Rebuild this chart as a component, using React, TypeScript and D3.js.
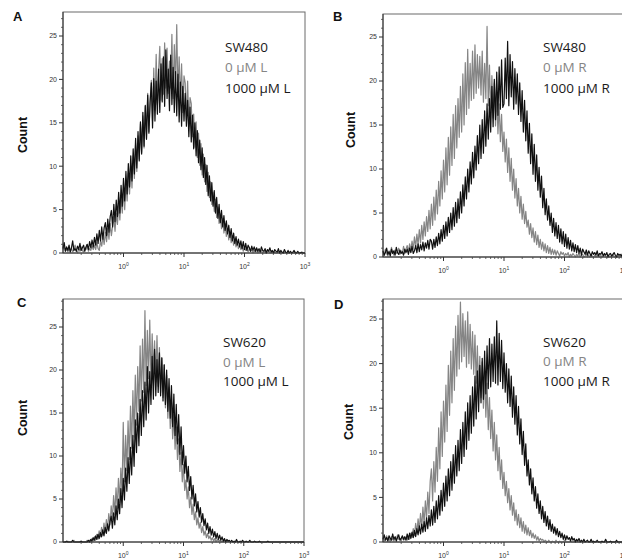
import React from 'react';
import * as d3 from 'd3';

// Histogram channels: log10 of fluorescence, from 10^-1 to 10^3 in steps of 0.02 decade
const LOG_START = -1;
const LOG_STEP = 0.02;

// Panel A — SW480, L
const A_0uM = [
 0.3,0.7,0.2,0.5,0.1,0.6,
 0.2,0.6,0.1,0.4,0.9,0.3,0.0,0.5,0.2,0.7,0.3,0.1,0.6,0.4,1.0,0.2,0.5,0.3,0.8,0.4,
 0.9,0.4,1.2,0.5,0.3,1.4,0.8,1.9,1.0,2.4,1.3,2.8,1.6,3.4,2.0,3.1,4.2,2.5,4.6,3.3,
 5.6,3.8,6.4,4.6,7.3,5.0,8.1,6.0,9.2,6.8,10.3,7.5,11.2,8.6,12.6,9.4,13.5,10.8,14.9,11.6,
 15.8,12.1,16.9,13.2,18.4,14.0,17.6,19.9,15.2,21.3,16.4,22.9,17.1,21.0,23.8,17.6,22.4,18.3,24.2,19.0,
 23.6,18.4,22.1,19.0,25.2,17.8,24.0,19.3,26.3,18.1,22.6,17.4,21.8,16.2,20.4,19.6,15.3,19.8,14.6,17.9,
 17.2,13.4,16.0,12.2,15.1,11.0,13.8,10.1,12.6,9.0,11.4,8.2,10.2,7.1,9.3,6.4,8.2,5.6,7.0,4.8,
 6.2,4.1,5.3,3.4,4.5,2.8,4.0,2.3,3.4,1.9,2.8,1.5,2.4,1.2,2.0,0.9,1.6,0.7,1.3,0.5,
 1.0,0.4,0.8,0.2,0.7,0.3,0.5,0.1,0.6,0.2,0.4,0.0,0.3,0.1,0.4,0.0,0.2,0.1,0.3,0.0,
 0.1,0.2,0.0,0.1,0.3,0.0,0.0,0.2,0.0,0.1,0.0,0.0,0.2,0.0,0.0,0.1,0.0,0.0,0.1,0.0,
 0.0,0.0,0.1,0.0,0.0,0.0,0.1,0.0,0.0,0.0,0.0,0.0,0.1,0.0,0.0];
const A_1000uM = [
 0.5,1.2,0.2,0.7,0.3,0.9,0.1,0.6,1.4,0.3,0.5,0.2,0.8,0.4,1.1,0.3,0.6,0.9,0.2,0.7,
 1.0,0.4,1.3,0.6,1.5,0.7,1.8,0.9,2.2,1.1,2.6,1.4,3.0,1.6,2.9,3.5,2.0,3.9,2.4,4.2,
 4.9,3.0,5.6,3.6,6.1,4.2,7.0,4.6,7.8,5.4,8.6,6.0,9.4,6.8,10.3,7.6,11.2,8.3,12.0,9.1,
 13.2,9.8,14.0,10.6,15.1,11.4,16.2,12.3,17.0,13.1,18.2,13.8,17.4,19.6,14.4,20.1,15.2,19.8,16.0,21.2,
 16.2,21.8,17.4,22.6,16.9,23.4,17.8,21.2,16.4,22.8,17.1,21.4,16.2,20.9,15.8,20.6,15.1,19.7,14.6,19.2,
 15.2,18.4,14.6,17.6,13.4,16.8,12.8,15.9,12.0,15.0,11.2,14.1,10.4,13.0,9.6,12.1,8.7,11.0,7.9,10.1,
 6.6,8.9,6.0,8.1,5.4,7.2,4.6,6.4,4.0,5.6,3.5,4.9,3.0,4.3,2.6,3.7,2.2,3.2,1.8,2.8,
 1.4,2.3,1.1,1.9,0.9,1.6,0.7,1.4,0.5,1.3,0.4,1.1,0.3,0.9,0.6,0.2,0.8,0.3,0.7,0.2,
 0.6,0.2,0.5,0.1,0.7,0.3,0.2,0.5,0.0,0.4,0.2,0.6,0.1,0.3,0.0,0.4,0.2,0.1,0.5,0.0,
 0.3,0.1,0.0,0.4,0.1,0.0,0.3,0.0,0.2,0.0,0.1,0.3,0.0,0.0,0.2,0.0,0.0,0.1,0.0,0.0,
 0.0];

// Panel B — SW480, R
const B_0uM = [
 0.6,0.2,0.9,0.4,0.1,0.7,0.3,1.1,0.5,0.2,0.8,0.4,0.6,1.0,0.3,0.7,0.5,1.2,0.4,0.9,
 1.3,0.6,1.5,0.7,1.8,0.9,2.3,1.1,2.6,1.4,3.1,1.6,3.6,2.0,4.0,2.4,4.6,2.9,5.3,3.2,
 6.0,3.6,6.8,4.2,7.6,4.9,8.6,5.8,9.8,6.6,11.0,7.4,12.4,8.2,13.6,9.3,14.8,10.4,16.2,11.2,
 17.2,12.4,18.0,13.6,19.4,14.2,20.8,15.0,22.1,16.2,23.6,16.9,22.0,17.8,23.4,18.0,24.1,18.6,23.0,19.2,
 22.8,18.4,23.4,17.6,22.0,18.0,26.2,17.2,21.8,16.4,20.6,15.8,19.8,14.9,18.6,14.0,17.4,13.1,16.2,12.0,
 14.2,10.8,13.4,9.6,12.4,8.6,11.2,7.6,10.0,6.7,8.9,5.8,7.8,5.0,6.9,4.3,6.0,3.8,5.2,3.4,
 4.2,2.6,3.8,2.2,3.3,1.7,2.9,1.4,2.5,1.1,2.0,0.9,1.7,0.7,1.5,0.5,1.3,0.4,1.1,0.3,
 0.9,0.3,0.8,0.2,0.7,0.4,0.1,0.6,0.3,0.5,0.1,0.4,0.2,0.5,0.0,0.3,0.1,0.4,0.2,0.0,
 0.3,0.1,0.4,0.0,0.2,0.3,0.0,0.1,0.4,0.0,0.2,0.0,0.3,0.1,0.0,0.2,0.0,0.1,0.3,0.0,
 0.2,0.0,0.1,0.3,0.0,0.0,0.2,0.0,0.1,0.0,0.3,0.0,0.0,0.1,0.0,0.2,0.0,0.0,0.1,0.0,
 0.0];
const B_1000uM = [
 0.7,0.2,0.5,1.0,0.3,0.6,0.1,0.9,0.4,0.7,0.2,1.1,0.5,0.3,0.8,0.4,0.6,0.2,0.9,0.5,
 0.9,0.3,1.0,0.5,1.2,0.4,0.7,1.3,0.5,1.5,0.6,1.4,0.8,1.7,0.7,1.6,1.0,1.9,0.9,2.0,
 1.8,0.9,2.0,1.1,2.3,1.3,2.7,1.5,3.1,1.8,3.6,2.1,4.0,2.4,4.5,2.8,5.0,3.1,5.6,3.5,
 6.2,3.9,6.6,4.4,7.4,5.0,8.2,5.8,9.1,6.6,10.0,7.4,10.8,8.3,11.9,9.0,12.6,9.9,13.8,10.6,
 15.0,11.2,15.6,11.8,16.6,12.6,17.4,13.4,18.0,14.2,19.4,14.8,20.2,15.6,21.0,16.1,21.6,16.8,22.4,17.0,
 17.4,22.6,18.0,24.5,17.2,23.0,18.2,22.2,16.8,21.4,17.4,20.8,16.2,19.8,15.4,18.9,14.2,17.8,13.2,16.6,
 11.8,15.2,10.6,14.0,9.4,12.8,8.6,11.6,7.6,10.2,6.8,9.2,5.6,7.8,4.8,6.6,4.2,5.8,3.6,5.0,
 2.8,4.4,2.4,3.9,2.1,3.6,1.7,3.2,1.5,2.9,1.2,2.6,1.0,2.2,0.9,1.9,0.7,1.6,0.6,1.4,
 0.5,1.3,0.4,1.0,0.2,0.9,0.6,0.3,0.8,0.2,0.7,0.4,0.1,0.6,0.3,0.5,0.2,0.7,0.1,0.4,
 0.3,0.6,0.1,0.4,0.2,0.5,0.0,0.3,0.4,0.1,0.3,0.5,0.2,0.0,0.4,0.2,0.3,0.1,0.4,0.2,
 0.3];

// Panel C — SW620, L
const C_0uM = [
 0,0,
 0,0,0.1,0,0,0,0,0.2,0,0,0,0,0,0.1,0,0,0,0,0.2,0,
 0.2,0,0.4,0.1,0.6,0.2,0.9,0.3,1.3,0.6,1.7,0.8,2.2,1.1,2.6,1.5,3.3,2.0,4.2,2.6,
 5.4,3.2,6.3,3.9,7.4,4.6,8.6,5.6,13.9,7.0,12.4,8.3,14.1,9.6,15.8,10.9,17.6,12.2,19.4,13.6,
 20.4,15.2,22.8,16.4,23.6,17.4,26.9,18.2,24.6,19.0,25.8,18.6,24.2,19.4,23.4,18.6,24.0,18.1,22.6,17.4,
 21.4,16.8,20.6,15.6,19.4,14.4,18.0,13.2,16.4,12.0,14.8,10.8,13.4,9.6,12.0,8.2,10.4,7.0,9.0,6.0,
 7.2,5.0,6.4,4.0,5.2,3.2,4.4,2.6,3.5,2.0,2.8,1.6,2.3,1.1,1.8,0.8,1.3,0.5,1.0,0.4,
 0.7,0.2,0.5,0.1,0.4,0,0.3,0.1,0.2,0,0.1,0,0.2,0,0,0.1,0,0,0,0,
 0,0,0.1,0,0,0,0,0,0.1,0,0,0,0,0,0,0,0,0,0,0,
 0,0,0,0,0,0,0,0,0,0,0,0,0,0,0,0,0,0,0,0,
 0,0,0,0,0,0,0,0,0,0,0,0,0,0,0,0,0,0,0];
const C_1000uM = [
 0,0,0,0.1,0,0,0,0,0.2,0,0,0,0,0,0,0.1,0,0,0,0,
 0,0.2,0,0.3,0.1,0.5,0.2,0.7,0.3,0.9,0.4,1.1,0.6,1.4,0.7,1.7,1.0,2.1,1.3,2.4,
 3.0,1.6,3.4,2.0,4.2,2.6,5.0,3.3,6.2,4.0,7.4,4.9,8.6,5.9,9.8,6.8,11.0,7.8,12.4,8.8,
 14.2,10.4,15.0,11.2,16.6,12.4,17.6,13.4,18.6,14.2,20.4,15.0,19.8,16.0,21.6,16.6,22.4,17.0,21.2,17.4,
 22.0,17.0,21.4,16.4,20.6,16.0,20.0,15.2,19.0,14.4,18.2,13.4,17.2,12.4,16.0,11.4,14.8,10.2,13.4,9.0,
 11.2,8.0,10.0,7.0,8.8,6.0,7.6,5.0,6.6,4.2,5.6,3.5,4.7,2.9,4.0,2.3,3.3,1.9,2.7,1.4,
 2.2,1.0,1.8,0.8,1.5,0.6,1.2,0.4,1.0,0.3,0.8,0.2,0.6,0.1,0.4,0,0.3,0.1,0.2,0,
 0.2,0,0.1,0,0.3,0,0,0.1,0,0.2,0,0,0.1,0,0,0.2,0,0,0,0.1,
 0,0,0,0.1,0,0,0,0,0,0,0.1,0,0,0,0,0,0,0,0,0,
 0,0,0,0,0,0,0,0,0,0,0,0,0,0,0,0,0,0,0,0,
 0];

// Panel D — SW620, R
const D_0uM = [
 0.5,0.1,0.3,0.7,0.2,0.4,0.0,0.6,0.3,0.1,0.5,0.2,0.8,0.3,0.4,0.1,0.6,0.2,0.3,0.5,
 0.2,0.7,0.3,1.0,0.5,1.5,0.7,2.1,1.0,2.6,1.3,3.2,1.6,3.9,2.0,4.6,2.6,5.6,3.2,6.8,
 8.2,4.6,9.0,5.6,10.6,6.8,12.8,8.2,14.6,9.6,15.8,11.2,17.6,12.4,19.8,14.2,21.4,15.6,22.8,17.0,
 24.2,18.6,25.4,19.4,26.9,20.2,25.6,20.8,24.8,19.6,25.8,20.0,24.4,19.4,23.6,18.8,23.2,17.8,22.0,17.0,
 20.8,16.2,20.2,15.0,19.0,14.0,17.8,12.6,16.2,11.6,14.8,10.2,13.4,9.2,12.0,8.0,10.6,7.0,9.2,6.0,
 7.8,5.2,6.8,4.4,6.0,3.6,5.2,3.0,4.4,2.4,3.6,1.9,3.1,1.6,2.7,1.2,2.3,1.0,1.9,0.8,
 1.6,0.7,1.3,0.5,1.0,0.4,0.8,0.2,0.6,0.1,0.4,0.2,0.3,0,0.2,0.1,0,0.2,0,0,
 0.1,0,0,0.2,0,0,0.1,0,0,0,0.2,0,0,0,0,0.1,0,0,0,0,
 0,0,0,0,0.1,0,0,0,0,0,0,0,0,0,0,0,0.1,0,0,0,
 0,0,0,0,0,0,0,0,0,0,0,0,0,0,0,0,0,0,0,0,
 0];
const D_1000uM = [
 0.3,0.8,0.2,0.5,0.1,0.7,0.4,0.2,0.9,0.3,0.6,0.1,0.5,0.8,0.2,0.4,0.7,0.3,0.6,0.2,
 0.9,0.3,1.0,0.4,1.1,0.5,1.3,0.6,1.5,0.8,1.8,0.9,2.0,1.1,2.3,1.2,2.7,1.5,3.0,1.8,
 3.6,1.9,4.0,2.2,4.6,2.6,5.2,3.0,5.8,3.5,6.6,4.0,7.4,4.6,8.2,5.2,9.0,5.8,9.8,6.6,
 10.8,7.4,11.4,8.0,12.6,8.8,13.4,9.6,14.6,10.4,15.6,11.4,16.4,12.2,17.4,13.0,18.6,13.8,19.2,14.6,
 19.8,15.6,20.6,16.0,21.4,16.6,22.0,17.2,22.8,17.4,22.2,18.0,23.0,17.8,24.8,17.6,23.4,18.0,22.6,17.2,
 21.2,16.8,20.0,15.6,19.4,15.2,18.6,14.0,17.4,13.2,16.4,12.0,15.2,11.0,13.8,9.8,12.4,8.6,11.0,7.4,
 9.2,6.4,8.2,5.4,7.2,4.6,6.2,3.8,5.4,3.2,4.6,2.6,4.0,2.2,3.4,1.8,2.9,1.4,2.5,1.2,
 2.0,1.0,1.7,0.8,1.5,0.6,1.2,0.5,1.0,0.3,0.8,0.2,0.7,0.3,0.5,0.1,0.6,0.2,0.4,0.0,
 0.3,0.1,0.4,0,0.2,0,0.3,0,0.1,0.2,0,0,0.3,0,0.1,0,0,0.2,0,0,
 0,0.1,0,0,0.3,0,0,0,0.1,0,0,0,0,0.2,0,0,0,0,0,0,
 0];

const Y_TICKS = [0, 5, 10, 15, 20, 25];
const X_DECADES = [1, 10, 100, 1000];
const X_TICK_EXP = ['0', '1', '2', '3'];
const PANEL_LETTERS = ['A', 'B', 'C', 'D'];
const CELL_LINES = ['SW480', 'SW480', 'SW620', 'SW620'];
const DRUGS = ['L', 'R', 'L', 'R'];
const SERIES_0 = [A_0uM, B_0uM, C_0uM, D_0uM];
const SERIES_1000 = [A_1000uM, B_1000uM, C_1000uM, D_1000uM];

const LAYOUT = [
  { lx: 13, ly: 21, x0: 63, x1: 305, yTop: 12, y0: 253, y25: 36, cx: 27, cy: 135, legX: 225, legY: [52, 72, 93] },
  { lx: 333, ly: 21, x0: 383, x1: 625, yTop: 14, y0: 257, y25: 37, cx: 355, cy: 130, legX: 543, legY: [52, 72, 93] },
  { lx: 17, ly: 307, x0: 63, x1: 304, yTop: 299, y0: 542, y25: 327, cx: 27, cy: 418, legX: 223, legY: [347, 367, 386] },
  { lx: 334, ly: 309, x0: 383, x1: 625, yTop: 299, y0: 542, y25: 319, cx: 353, cy: 422, legX: 543, legY: [347, 366, 386] },
];

const GRAY = '#858585';
const BLACK = '#101010';
const SANS = "'Liberation Sans', Arial, sans-serif";
const LEG_FONT = "'Open Sans', 'Liberation Sans', sans-serif";

function Panel({ idx }: { idx: number }) {
  const p = LAYOUT[idx];
  const x = d3.scaleLog().domain([0.1, 1000]).range([p.x0, p.x1]);
  const y = d3.scaleLinear().domain([0, 25]).range([p.y0, p.y25]);
  const line = d3
    .line<number>()
    .x((_, i) => x(Math.pow(10, LOG_START + i * LOG_STEP)))
    .y((v) => y(v));
  const yMax = y.invert(p.yTop);
  const minorY = d3.range(0, Math.floor(yMax) + 1).filter((v) => v % 5 !== 0);
  const minorX: number[] = [];
  [0.1, 1, 10, 100].forEach((dec) => {
    for (let k = 2; k <= 9; k++) minorX.push(dec * k);
  });

  return (
    <g>
      <rect x={p.x0} y={p.yTop} width={p.x1 - p.x0} height={p.y0 - p.yTop} fill="none" stroke="#6a6a6a" strokeWidth={1} />
      <path d={line(SERIES_0[idx]) || ''} fill="none" stroke={GRAY} strokeWidth={1.2} strokeLinejoin="round" />
      <path d={line(SERIES_1000[idx]) || ''} fill="none" stroke={BLACK} strokeWidth={1.2} strokeLinejoin="round" />
      <line x1={p.x0} x2={p.x0} y1={p.yTop} y2={p.y0} stroke="#333" strokeWidth={1} />
      <line x1={p.x0} x2={p.x1} y1={p.y0} y2={p.y0} stroke="#333" strokeWidth={1} />
      {Y_TICKS.map((t) => (
        <g key={'y' + t}>
          <line x1={p.x0 - 4} x2={p.x0} y1={y(t)} y2={y(t)} stroke="#333" strokeWidth={1} />
          <text x={p.x0 - 6} y={y(t)} dy="0.35em" textAnchor="end" fontFamily={SANS} fontSize={7} fill="#333">
            {t}
          </text>
        </g>
      ))}
      {minorY.map((t) => (
        <line key={'ym' + t} x1={p.x0 - 2} x2={p.x0} y1={y(t)} y2={y(t)} stroke="#444" strokeWidth={0.8} />
      ))}
      {X_DECADES.map((t, i) => (
        <g key={'x' + t}>
          <line x1={x(t)} x2={x(t)} y1={p.y0} y2={p.y0 + 4} stroke="#333" strokeWidth={1} />
          <text x={x(t)} y={p.y0 + 16} textAnchor="middle" fontFamily={SANS} fontSize={7} fill="#333">
            10<tspan dy={-3} fontSize={5}>{X_TICK_EXP[i]}</tspan>
          </text>
        </g>
      ))}
      {minorX.map((t) => (
        <line key={'xm' + t} x1={x(t)} x2={x(t)} y1={p.y0} y2={p.y0 + 2} stroke="#444" strokeWidth={0.8} />
      ))}
      <text x={p.lx} y={p.ly} fontFamily={SANS} fontWeight="bold" fontSize={13} fill="#111">
        {PANEL_LETTERS[idx]}
      </text>
      <text transform={`translate(${p.cx},${p.cy}) rotate(-90)`} textAnchor="middle" fontFamily={SANS} fontWeight="bold" fontSize={12.5} fill="#111">
        Count
      </text>
      <text x={p.legX} y={p.legY[0]} fontFamily={LEG_FONT} fontSize={13.5} fill="#1a1a1a">
        {CELL_LINES[idx]}
      </text>
      <text x={p.legX} y={p.legY[1]} fontFamily={LEG_FONT} fontSize={13.5} fill={GRAY}>
        {`0 µM ${DRUGS[idx]}`}
      </text>
      <text x={p.legX} y={p.legY[2]} fontFamily={LEG_FONT} fontSize={13.5} fill="#1a1a1a">
        {`1000 µM ${DRUGS[idx]}`}
      </text>
    </g>
  );
}

export default function App() {
  return (
    <svg
      width={622}
      height={560}
      style={{ position: 'absolute', left: 0, top: 0, background: '#fff' }}
      xmlns="http://www.w3.org/2000/svg"
    >
      <rect x={0} y={0} width={622} height={560} fill="#fff" />
      {PANEL_LETTERS.map((_, i) => (
        <Panel key={i} idx={i} />
      ))}
    </svg>
  );
}
